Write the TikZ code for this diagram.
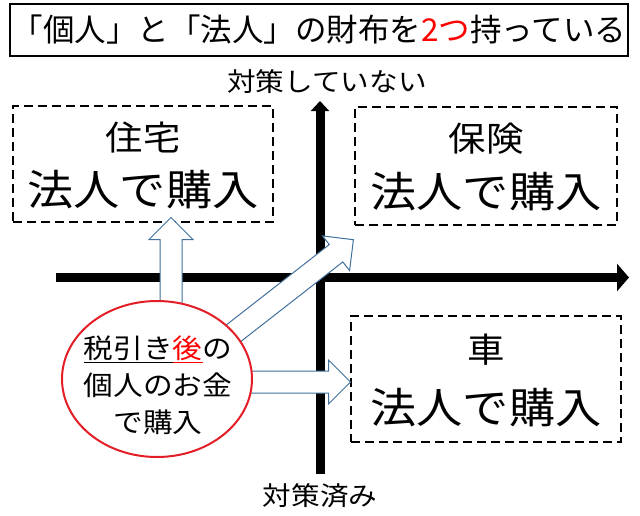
\documentclass[tikz,border=0pt]{standalone}
\usepackage{fontspec}
\setmainfont{Noto Sans CJK JP}
\newfontfamily\jpwide[FakeStretch=1.1]{Noto Sans CJK JP}
\usetikzlibrary{arrows.meta,shapes.geometric,shapes.arrows,calc}
\definecolor{ovalred}{RGB}{228,30,38}
\definecolor{arrowblue}{RGB}{65,113,156}
\newcommand\ulmark[2]{\leavevmode\setbox0=\hbox{#2}\rlap{\textcolor{#1}{\rule[-5pt]{\wd0}{1.5pt}}}\box0}
\newcommand\flowarrow[2]{%
  \path let \p1=($(#2)-(#1)$), \n1={veclen(\x1,\y1)}, \n2={atan2(\y1,\x1)} in
    node[blockarrow, minimum height=\n1, rotate=\n2, anchor=tail] (#1-#2) at (#1) {};}

\begin{document}
\begin{tikzpicture}[x=1pt,y=-1pt,
    axis/.style={line width=9.5pt},
    axislabel/.style={inner sep=0pt, font=\jpwide\fontsize{26}{30}\selectfont},
    dashbox/.style={draw, line width=2.2pt, dash pattern=on 9pt off 5pt},
    itemname/.style={inner sep=0pt, font=\jpwide\fontsize{34}{40}\selectfont},
    itembuy/.style={inner sep=0pt, font=\jpwide\fontsize{42}{48}\selectfont},
    blockarrow/.style={single arrow, draw=arrowblue, fill=white, line width=1pt,
      inner sep=0pt, inner ysep=10.5pt, single arrow head extend=11pt}]
  \useasboundingbox (0,0) rectangle (640,515);

  % title
  \node[draw, line width=2pt, minimum width=618, minimum height=52, inner sep=0pt,
    font=\fontsize{31.5}{36}\selectfont] (title) at (319,30)
    {「個人」と「法人」の財布を\textcolor{red}{2つ}持っている};

  % axes
  \coordinate (xleft) at (56,277.5);
  \coordinate (xright) at (629,277.5);
  \coordinate (ybottom) at (320,474);
  \coordinate (ytop) at (320,101);
  \draw[axis, -{Triangle[length=12pt,width=27pt]}] (xleft) -- (xright);
  \draw[axis, line width=9pt, -{Triangle[length=10pt,width=18pt]}] (ybottom) -- (ytop);
  \node[axislabel] (notyet) at (327,82) {対策していない};
  \node[axislabel] (done) at (320,496) {対策済み};

  % the three boxes
  \node[dashbox, minimum width=260, minimum height=116] (house) at (143,164) {};
  \node[itemname] (housename) at (143,137) {住宅};
  \node[itembuy] (housebuy) at (143,190) {法人で購入};

  \node[dashbox, minimum width=262, minimum height=118] (insurance) at (486,166) {};
  \node[itemname] (insurancename) at (486,139) {保険};
  \node[itembuy] (insurancebuy) at (486,192) {法人で購入};

  \node[dashbox, minimum width=270, minimum height=126] (car) at (486,379) {};
  \node[itemname] (carname) at (486,350) {車};
  \node[itembuy] (carbuy) at (486,408) {法人で購入};

  % arrows out of the wallet
  \coordinate (upfrom) at (171,310);
  \coordinate (upto) at (171,218);
  \coordinate (diagfrom) at (230,336);
  \coordinate (diagto) at (353,240);
  \coordinate (rightfrom) at (248,382);
  \coordinate (rightto) at (350,382);
  \flowarrow{upfrom}{upto}
  \flowarrow{diagfrom}{diagto}
  \flowarrow{rightfrom}{rightto}

  % wallet
  \node[draw=ovalred, fill=white, line width=2pt, ellipse, minimum width=190,
    minimum height=156] (wallet) at (157,379) {};
  \node[align=center, inner sep=0pt, font=\jpwide\fontsize{27}{37}\selectfont]
    (wallettext) at (158,385)
    {\ulmark{black}{税引き}{\color{red}\ulmark{red}{後}}の\\個人のお金\\で購入};
\end{tikzpicture}
\end{document}
